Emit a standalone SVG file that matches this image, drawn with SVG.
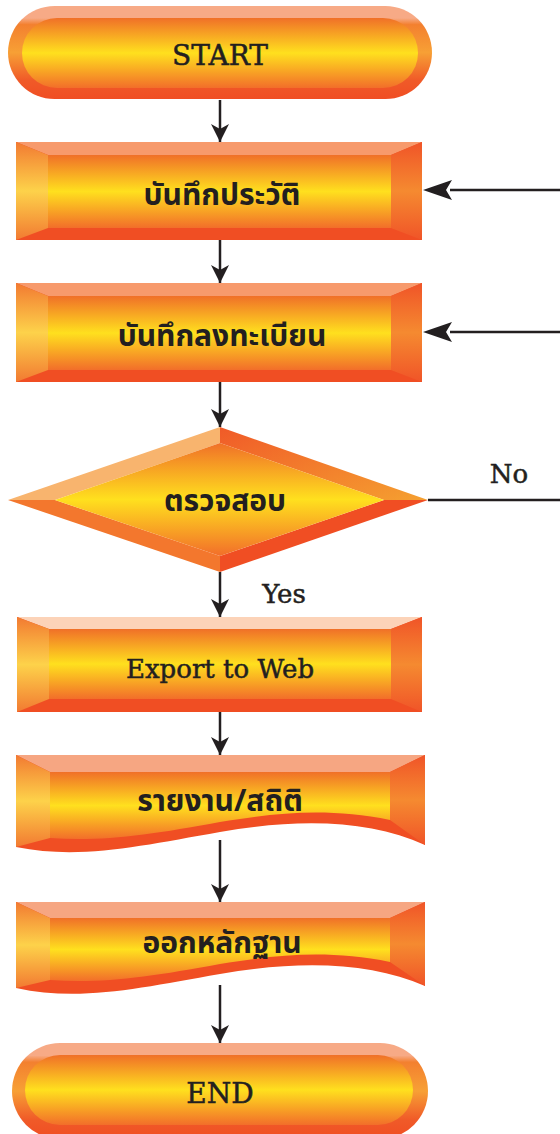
<svg xmlns="http://www.w3.org/2000/svg" width="560" height="1134" viewBox="0 0 560 1134">
<defs>
<style>
.lbl{font-family:"Noto Sans Thai","Noto Sans","DejaVu Sans",sans-serif;font-weight:bold;font-size:30px;fill:#231f20;text-anchor:middle}
.ser{font-family:"DejaVu Serif","Liberation Serif",serif;font-size:26px;fill:#231f20;stroke:#231f20;stroke-width:0.5;text-anchor:middle}
.con{stroke:#231f20;stroke-width:2.5;fill:none}
.bot{fill:#F04E23}
.hd{fill:#231f20}
</style>
<linearGradient id="gIn" x1="0" y1="0" x2="0" y2="1">
<stop offset="0" stop-color="#F07028"/>
<stop offset="0.5" stop-color="#FFE01E"/>
<stop offset="1" stop-color="#F26E2A"/>
</linearGradient>
<linearGradient id="gL" x1="0" y1="0" x2="0" y2="1">
<stop offset="0" stop-color="#F27A32"/>
<stop offset="0.5" stop-color="#FDD24A"/>
<stop offset="1" stop-color="#F27A32"/>
</linearGradient>
<linearGradient id="gR" x1="0" y1="0" x2="0" y2="1">
<stop offset="0" stop-color="#F05428"/>
<stop offset="0.5" stop-color="#F58A30"/>
<stop offset="1" stop-color="#F05428"/>
</linearGradient>
<linearGradient id="gPill" x1="0" y1="0" x2="0" y2="1">
<stop offset="0" stop-color="#F7AA86"/>
<stop offset="0.13" stop-color="#F7AA86"/>
<stop offset="0.2" stop-color="#F3802F"/>
<stop offset="0.5" stop-color="#F7A035"/>
<stop offset="0.8" stop-color="#F05A28"/>
<stop offset="1" stop-color="#F04E23"/>
</linearGradient>
<linearGradient id="gDUR" x1="0" y1="0" x2="1" y2="1">
<stop offset="0" stop-color="#F05A28"/>
<stop offset="1" stop-color="#F5A030"/>
</linearGradient>
<marker id="ahV" viewBox="0 0 18 18" refX="18" refY="9" markerWidth="18" markerHeight="18" markerUnits="userSpaceOnUse" orient="auto">
<path d="M0,0 L18,9 L0,18 L5,9 z" fill="#231f20"/>
</marker>
</defs>

<g id="connectors">
<line class="con" x1="220" y1="100" x2="220" y2="142" marker-end="url(#ahV)"/>
<line class="con" x1="220" y1="240" x2="220" y2="283" marker-end="url(#ahV)"/>
<line class="con" x1="220" y1="382" x2="220" y2="427" marker-end="url(#ahV)"/>
<line class="con" x1="220" y1="572" x2="220" y2="617" marker-end="url(#ahV)"/>
<line class="con" x1="220" y1="712" x2="220" y2="755" marker-end="url(#ahV)"/>
<line class="con" x1="220" y1="840" x2="220" y2="902" marker-end="url(#ahV)"/>
<line class="con" x1="220" y1="985" x2="220" y2="1043" marker-end="url(#ahV)"/>
<path class="con" d="M560,190 H450"/>
<path class="hd" d="M423,190 L452,180 L446,190 L452,200 z"/>
<path class="con" d="M560,332 H450"/>
<path class="hd" d="M423,332 L452,322 L446,332 L452,342 z"/>
<path class="con" d="M428,500 H560"/>
<text class="ser" x="509" y="483">No</text>
<text class="ser" x="284" y="603">Yes</text>
</g>

<g id="start">
<rect x="8" y="6" width="424" height="93" rx="46.5" fill="url(#gPill)"/>
<rect x="22" y="18" width="396" height="70" rx="35" fill="url(#gIn)"/>
<text class="ser" x="220" y="65" style="font-size:28px">START</text>
</g>

<g id="record-history">
<rect x="16" y="142" width="406" height="98" class="bot"/>
<polygon points="16,142 422,142 391,155 48,155" fill="#F79A6C"/>
<polygon points="16,142 48,155 48,228 16,240" fill="url(#gL)"/>
<polygon points="422,142 422,240 391,228 391,155" fill="url(#gR)"/>
<rect x="48" y="155" width="343" height="73" fill="url(#gIn)"/>
<text class="lbl" x="222" y="205">บันทึกประวัติ</text>
</g>

<g id="register">
<rect x="16" y="283" width="406" height="99" class="bot"/>
<polygon points="16,283 422,283 391,296 48,296" fill="#F79A6C"/>
<polygon points="16,283 48,296 48,370 16,382" fill="url(#gL)"/>
<polygon points="422,283 422,382 391,370 391,296" fill="url(#gR)"/>
<rect x="48" y="296" width="343" height="74" fill="url(#gIn)"/>
<text class="lbl" x="222" y="346">บันทึกลงทะเบียน</text>
</g>

<g id="check">
<polygon points="220,427 8,500 55,500 220,443" fill="#F8B46E"/>
<polygon points="220,427 428,500 384,500 220,443" fill="url(#gDUR)"/>
<polygon points="8,500 220,572 220,556 55,500" fill="#F3772D"/>
<polygon points="428,500 220,572 220,556 384,500" fill="#F04E23"/>
<polygon points="220,443 384,500 220,556 55,500" fill="url(#gIn)"/>
<text class="lbl" x="225" y="511">ตรวจสอบ</text>
</g>

<g id="export">
<rect x="17" y="617" width="405" height="95" class="bot"/>
<polygon points="17,617 422,617 391,629 49,629" fill="#FCD3B8"/>
<polygon points="17,617 49,629 49,699 17,712" fill="url(#gL)"/>
<polygon points="422,617 422,712 391,699 391,629" fill="url(#gR)"/>
<rect x="49" y="629" width="342" height="70" fill="url(#gIn)"/>
<text class="ser" x="220" y="678">Export to Web</text>
</g>

<g id="report">
<path d="M16,755 H425 V845 C370,820 300,818 220,832 C140,846 80,860 16,847 Z" class="bot"/>
<polygon points="16,755 425,755 390,772 50,772" fill="#F6A682"/>
<polygon points="16,755 50,772 50,838 16,847" fill="url(#gL)"/>
<polygon points="425,755 425,845 390,820 390,772" fill="url(#gR)"/>
<path d="M50,772 H390 V820 C330,808 280,812 220,822 C150,835 100,842 50,838 Z" fill="url(#gIn)"/>
<text class="lbl" x="220" y="811">รายงาน/สถิติ</text>
</g>

<g id="evidence">
<path d="M16,902 H425 V986 C370,962 300,960 220,974 C140,988 80,1002 16,988 Z" class="bot"/>
<polygon points="16,902 425,902 390,918 50,918" fill="#F6A682"/>
<polygon points="16,902 50,918 50,980 16,988" fill="url(#gL)"/>
<polygon points="425,902 425,986 390,962 390,918" fill="url(#gR)"/>
<path d="M50,918 H390 V962 C330,950 280,954 220,964 C150,977 100,984 50,980 Z" fill="url(#gIn)"/>
<text class="lbl" x="222" y="953">ออกหลักฐาน</text>
</g>

<g id="end">
<rect x="12" y="1043" width="416" height="96" rx="48" fill="url(#gPill)"/>
<rect x="25" y="1055" width="388" height="70" rx="35" fill="url(#gIn)"/>
<text class="ser" x="220" y="1103" style="font-size:28px">END</text>
</g>
</svg>
